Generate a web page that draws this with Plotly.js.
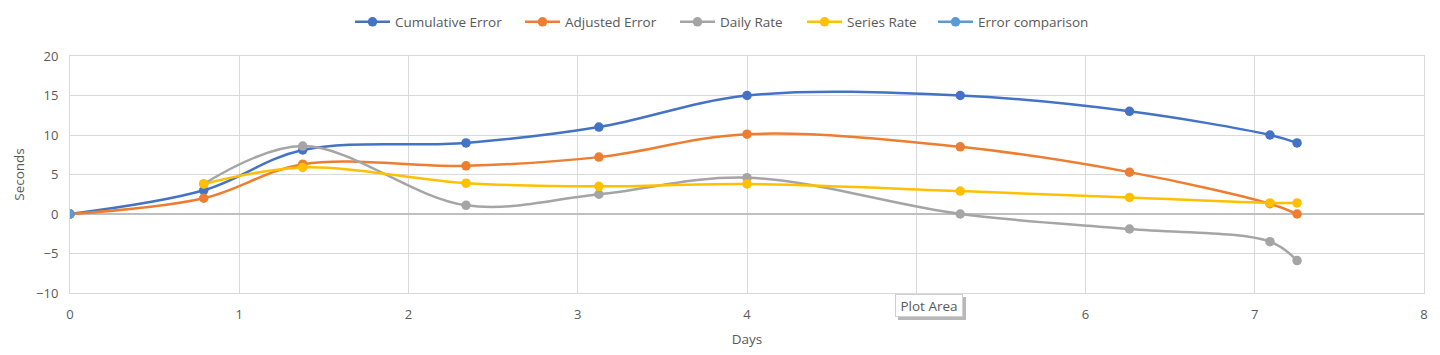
<!DOCTYPE html>
<html>
<head>
<meta charset="utf-8">
<script src="https://cdn.plot.ly/plotly-3.0.1.min.js"></script>
<style>html,body{margin:0;padding:0;background:#fff;}#chart{width:1440px;height:355px;}</style>
</head>
<body>
<div id="chart"></div>
<script>
const days = [0, 0.79, 1.375, 2.34, 3.125, 4.0, 5.26, 6.26, 7.09, 7.25];
const cumulativeError = [0, 3.0, 8.1, 9.0, 11.0, 15.0, 15.0, 13.0, 10.0, 9.0];
const adjustedError = [0, 2.0, 6.3, 6.1, 7.2, 10.1, 8.5, 5.3, 1.3, 0];
const rateDays = [0.79, 1.375, 2.34, 3.125, 4.0, 5.26, 6.26, 7.09, 7.25];
const dailyRate = [3.8, 8.6, 1.1, 2.5, 4.6, 0, -1.9, -3.5, -5.9];
const seriesRate = [3.8, 5.9, 3.9, 3.5, 3.8, 2.9, 2.1, 1.4, 1.4];
const comparisonDays = [0];
const errorComparison = [0];

const xTickVals = [0, 1, 2, 3, 4, 5, 6, 7, 8];
const xTickText = ['0', '1', '2', '3', '4', '', '6', '7', '8']; // "5" is hidden behind the tooltip
const yTickVals = [-10, -5, 0, 5, 10, 15, 20];

const names = ["Cumulative Error", "Adjusted Error", "Daily Rate", "Series Rate", "Error comparison"];
const colors = ["#4472C4", "#ED7D31", "#A5A5A5", "#FFC000", "#5B9BD5"];
const xs = [days, days, rateDays, rateDays, comparisonDays];
const ys = [cumulativeError, adjustedError, dailyRate, seriesRate, errorComparison];
const legendStarts = [355, 525, 680, 807, 938];

const fam = 'Open Sans, Liberation Sans, sans-serif';
const txt = '#595959';

const legendId = i => i === 0 ? 'legend' : 'legend' + (i + 1);

const traces = names.map((n, i) => ({
  x: xs[i], y: ys[i], name: n, type: 'scatter', mode: 'lines+markers',
  legend: legendId(i),
  line: {color: colors[i], width: 2.5, shape: 'spline', smoothing: 1},
  marker: {color: colors[i], size: 9.5}
}));

const W = 1354, H = 237, L = 70, T = 56;
const px = v => (v - L) / W;
const py = v => (T + H - v) / H;

const layout = {
  width: 1440, height: 355,
  margin: {l: 70, r: 16, t: 56, b: 62},
  paper_bgcolor: '#fff', plot_bgcolor: '#fff',
  font: {family: fam, color: txt, size: 13},
  showlegend: true,
  xaxis: {range: [0, 8], tickvals: xTickVals, ticktext: xTickText,
          showgrid: true, gridcolor: '#D9D9D9', gridwidth: 1,
          zeroline: false, showline: true, linecolor: '#D9D9D9', mirror: true, ticks: '',
          ticklabelstandoff: 9,
          tickfont: {size: 13, color: txt},
          title: {text: 'Days', font: {size: 13.5, color: txt}, standoff: 12}},
  yaxis: {range: [-10, 20], tickvals: yTickVals, showgrid: true, gridcolor: '#D9D9D9', gridwidth: 1,
          zeroline: true, zerolinecolor: '#BFBFBF', zerolinewidth: 1.5,
          showline: true, linecolor: '#D9D9D9', mirror: true, ticks: '',
          ticklabelstandoff: 8,
          tickfont: {size: 13, color: txt},
          title: {text: 'Seconds', font: {size: 13.5, color: txt}, standoff: 8}},
  shapes: [{
    type: 'rect', xref: 'paper', yref: 'paper', layer: 'above',
    x0: px(898), x1: px(966), y0: py(297), y1: py(320),
    fillcolor: 'rgba(0,0,0,0.28)', line: {width: 0}
  }],
  annotations: [{
    xref: 'paper', yref: 'paper', x: px(929), y: py(305.5), xanchor: 'center', yanchor: 'middle',
    width: 66, height: 21,
    text: 'Plot Area', showarrow: false, bgcolor: '#ffffff', bordercolor: '#D0D0D0', borderwidth: 1,
    borderpad: 0, font: {family: fam, size: 13.5, color: txt}
  }]
};
legendStarts.forEach((s, i) => {
  layout[legendId(i)] = {
    orientation: 'h', xref: 'container', yref: 'container',
    x: (s - 5) / 1440, xanchor: 'left', y: 1 - 22 / 355, yanchor: 'middle',
    font: {family: fam, color: txt, size: 13.5}, itemwidth: 35,
    bgcolor: 'rgba(0,0,0,0)', borderwidth: 0
  };
});
Plotly.newPlot('chart', traces, layout, {displayModeBar: false, staticPlot: true});
</script>
</body>
</html>
